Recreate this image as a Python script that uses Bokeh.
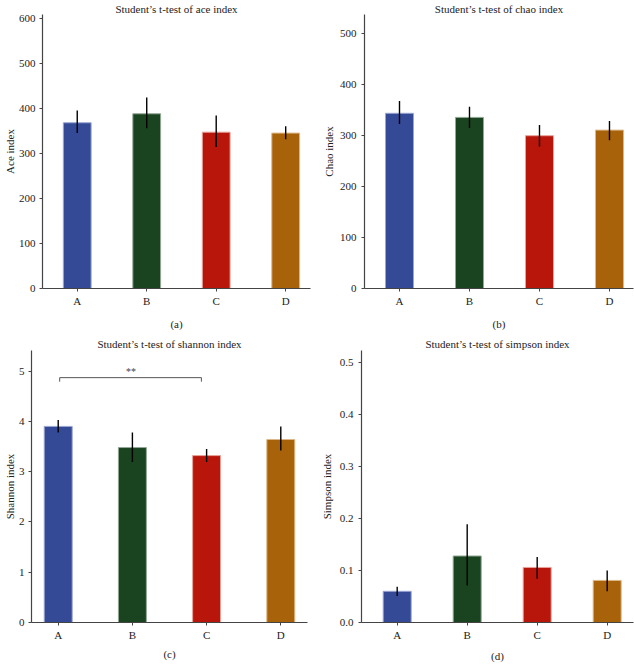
from bokeh.plotting import figure
from bokeh.layouts import column, row
from bokeh.models import FixedTicker, PrintfTickFormatter, Range1d
from bokeh.core.properties import value
from bokeh.embed import file_html
from bokeh.resources import INLINE

groups = ["A", "B", "C", "D"]
colors = ["#344a96", "#1a4420", "#b8150b", "#a8620a"]
edge_colors = ["#9aa6d2", "#93a895", "#e8a39a", "#ddb888"]

ace_mean = [369, 389, 348, 346]
ace_upper = [396, 425, 385, 361]
ace_lower = [346, 357, 315, 332]

chao_mean = [344, 336, 300, 311]
chao_upper = [368, 357, 321, 329]
chao_lower = [323, 315, 279, 291]

shannon_mean = [3.90, 3.48, 3.32, 3.64]
shannon_upper = [4.03, 3.78, 3.45, 3.90]
shannon_lower = [3.78, 3.19, 3.19, 3.42]

simpson_mean = [0.060, 0.128, 0.106, 0.081]
simpson_upper = [0.069, 0.189, 0.126, 0.100]
simpson_lower = [0.051, 0.071, 0.084, 0.060]

ace_ticks = [0, 100, 200, 300, 400, 500, 600]
chao_ticks = [0, 100, 200, 300, 400, 500]
shannon_ticks = [0, 1, 2, 3, 4, 5]
simpson_ticks = [0.0, 0.1, 0.2, 0.3, 0.4, 0.5]

# significance annotation (panel c): A vs C
sig_pair = (0, 2)
sig_level = 4.87
sig_drop = 0.08
sig_text = "**"

FONT = "Liberation Serif"
FS = "11px"
AX = "#444444"
TXT = "#222222"


def make_panel(title, ylabel, plabel, means, upper, lower, ticks, y_end,
               x_start, x_end, bar_w, borders, title_standoff, ylab_standoff,
               xlab_standoff, ytick_standoff, fmt=None):
    bl, br, bt, bb = borders
    p = figure(width=317, height=332, output_backend="svg", toolbar_location=None,
               x_range=Range1d(x_start, x_end), y_range=Range1d(0, y_end),
               min_border_left=bl, min_border_right=br, min_border_top=bt,
               min_border_bottom=bb)
    p.outline_line_color = None
    p.grid.visible = False
    p.background_fill_color = "white"
    p.border_fill_color = "white"

    p.title.text = title
    p.title.align = "center"
    p.title.text_font = FONT
    p.title.text_font_size = FS
    p.title.text_font_style = "normal"
    p.title.text_color = TXT
    p.title.standoff = title_standoff

    xs = list(range(len(groups)))
    p.vbar(x=xs, top=means, bottom=0, width=bar_w, fill_color=colors,
           line_color=edge_colors, line_width=1)
    p.segment(x0=xs, y0=lower, x1=xs, y1=upper, line_color="black", line_width=1.4)

    for ax in (p.xaxis[0], p.yaxis[0]):
        ax.axis_line_color = AX
        ax.axis_line_width = 1.2
        ax.major_tick_line_color = AX
        ax.major_tick_out = 3
        ax.major_tick_in = 0
        ax.minor_tick_line_color = None
        ax.major_label_text_font = FONT
        ax.major_label_text_font_size = FS
        ax.major_label_text_color = TXT
        ax.axis_label_text_font = FONT
        ax.axis_label_text_font_size = FS
        ax.axis_label_text_font_style = "normal"
        ax.axis_label_text_color = TXT

    p.xaxis.ticker = FixedTicker(ticks=xs)
    p.xaxis.major_label_overrides = {i: g for i, g in enumerate(groups)}
    p.xaxis.major_label_standoff = 3
    p.xaxis.axis_label = plabel
    p.xaxis.axis_label_standoff = xlab_standoff

    p.yaxis.ticker = FixedTicker(ticks=ticks)
    p.yaxis.major_label_standoff = ytick_standoff
    p.yaxis.axis_label = ylabel
    p.yaxis.axis_label_standoff = ylab_standoff
    if fmt:
        p.yaxis.formatter = PrintfTickFormatter(format=fmt)
    return p


pa = make_panel("Student\u2019s t-test of ace index", "Ace index", "(a)",
                ace_mean, ace_upper, ace_lower, ace_ticks, 610,
                -0.5, 3.357, 0.4, (40, 7, 14, 44), 0, 0, 8, 4)
pb = make_panel("Student\u2019s t-test of chao index", "Chao index", "(b)",
                chao_mean, chao_upper, chao_lower, chao_ticks, 538,
                -0.5, 3.343, 0.4, (47, 1, 13, 44), 0, 2, 8, 5)
pc = make_panel("Student\u2019s t-test of shannon index", "Shannon index", "(c)",
                shannon_mean, shannon_upper, shannon_lower, shannon_ticks, 5.41,
                -0.36, 3.36, 0.377, (31, 10, 18, 39), 1, 0, 4, 4)
pd = make_panel("Student\u2019s t-test of simpson index", "Simpson index", "(d)",
                simpson_mean, simpson_upper, simpson_lower, simpson_ticks, 0.5235,
                -0.51, 3.376, 0.4, (44, 1, 18, 39), 1, 4, 6, 5, fmt="%.1f")

# significance bracket on panel c
x0 = sig_pair[0] + 0.02
x1 = sig_pair[1] - 0.07
pc.line(x=[x0, x0, x1, x1],
        y=[sig_level - sig_drop, sig_level, sig_level, sig_level - sig_drop],
        line_color="#555555", line_width=1)
pc.text(x=[(sig_pair[0] + sig_pair[1]) / 2 - 0.02], y=[sig_level + 0.02], text=[sig_text],
        text_font=value(FONT), text_font_size="10px", text_color="#444444",
        text_align="center", text_baseline="bottom")

layout = column(row(pa, pb), row(pc, pd))

open("out.html", "w").write(file_html(layout, INLINE))
